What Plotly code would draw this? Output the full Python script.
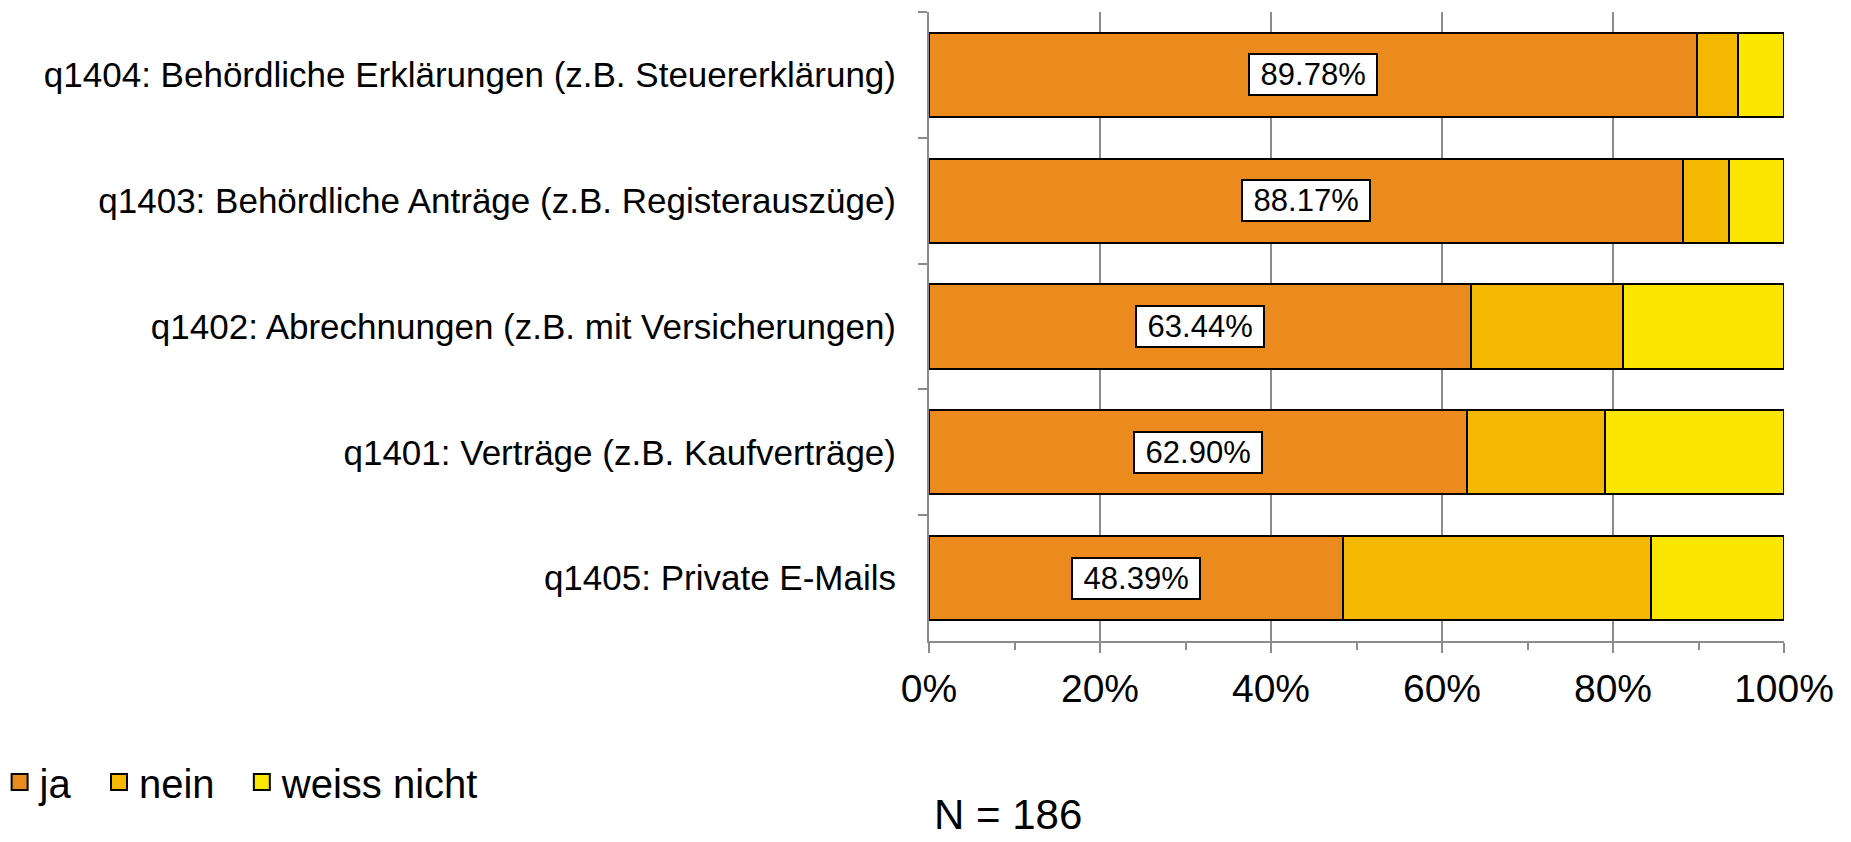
import plotly.graph_objects as go

# Data (top-to-bottom order as shown)
categories = [
    "q1404: Behördliche Erklärungen (z.B. Steuererklärung)",
    "q1403: Behördliche Anträge (z.B. Registerauszüge)",
    "q1402: Abrechnungen (z.B. mit Versicherungen)",
    "q1401: Verträge (z.B. Kaufverträge)",
    "q1405: Private E-Mails",
]
ja = [89.78, 88.17, 63.44, 62.90, 48.39]
nein = [4.84, 5.38, 17.74, 16.13, 36.02]
weiss_nicht = [5.38, 6.45, 18.82, 20.97, 15.59]
series_names = ["ja", "nein", "weiss nicht"]
series_colors = ["#EB8A1D", "#F5B800", "#FAE600"]
x_tickvals = [0, 20, 40, 60, 80, 100]
x_ticktext = ["0%", "20%", "40%", "60%", "80%", "100%"]
n_text = "N = 186"

FONT = "Liberation Sans, Arial, sans-serif"
GRID = "#8C8C8C"

fig = go.Figure()
for name, vals, col in zip(series_names, [ja, nein, weiss_nicht], series_colors):
    fig.add_trace(go.Bar(
        y=categories, x=vals, name=name, orientation="h",
        marker=dict(color=col, line=dict(color="black", width=2)),
        legendgroup=name, showlegend=False,
        hoverinfo="x+y+name",
    ))
# legend entries (larger square swatches)
for name, col in zip(series_names, series_colors):
    fig.add_trace(go.Scatter(
        x=[None], y=[None], mode="markers", name=name + "\u00a0\u00a0",
        legendgroup=name, showlegend=True,
        marker=dict(symbol="square", size=16, color=col,
                    line=dict(color="black", width=2)),
    ))

for c, v in zip(categories, ja):
    fig.add_annotation(
        x=v / 2, y=c, xref="x", yref="y", text=f" {v:.2f}% ", showarrow=False,
        font=dict(family=FONT, size=31, color="black"),
        bgcolor="white", bordercolor="black", borderwidth=2, borderpad=2,
    )

fig.add_annotation(
    x=0.0919, y=-0.3165, xref="paper", yref="paper", text=n_text, showarrow=False,
    xanchor="center", yanchor="bottom",
    font=dict(family=FONT, size=42, color="black"),
)

fig.update_layout(
    width=1851, height=842,
    margin=dict(l=929, r=67, t=12, b=201, autoexpand=False),
    barmode="stack", bargap=0.332,
    plot_bgcolor="white", paper_bgcolor="white",
    font=dict(family=FONT, color="black"),
    showlegend=True,
    legend=dict(
        orientation="h", x=-1.087, xanchor="left", y=-0.224, yanchor="middle",
        font=dict(family=FONT, size=40, color="black"),
        traceorder="normal", itemwidth=30, bgcolor="rgba(0,0,0,0)",
    ),
    xaxis=dict(
        range=[0, 100], tickvals=x_tickvals, ticktext=x_ticktext,
        showgrid=True, gridcolor=GRID, gridwidth=2,
        showline=True, linecolor=GRID, linewidth=2,
        ticks="outside", ticklen=10, tickwidth=2, tickcolor=GRID,
        minor=dict(dtick=10, ticks="outside", ticklen=7, tickwidth=2,
                   tickcolor=GRID, showgrid=False),
        tickfont=dict(family=FONT, size=39, color="black"),
        ticklabelstandoff=2, zeroline=False, fixedrange=True,
    ),
    yaxis=dict(
        categoryorder="array", categoryarray=categories, autorange="reversed",
        showline=True, linecolor=GRID, linewidth=2,
        ticks="outside", ticklen=9, tickwidth=2, tickcolor=GRID,
        tickson="boundaries", showgrid=False,
        tickfont=dict(family=FONT, size=35, color="black"),
        ticklabelstandoff=24, fixedrange=True,
    ),
)

fig.write_html("out.html", config={"displayModeBar": False})
with open("out.html", "r", encoding="utf-8") as f:
    html = f.read()
html = html.replace("<head>", "<head><style>html,body{margin:0;padding:0;overflow:hidden;}</style>", 1)
with open("out.html", "w", encoding="utf-8") as f:
    f.write(html)
